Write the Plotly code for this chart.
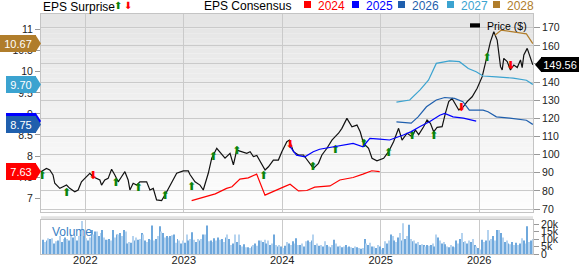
import plotly.graph_objects as go

# ---------------- data ----------------
# Price line: decimal-year positions and $ values
price_t = [2021.55, 2021.605, 2021.639, 2021.672, 2021.69, 2021.741, 2021.774, 2021.809, 2021.842, 2021.893,
           2021.927, 2021.961, 2021.995, 2022.046, 2022.079, 2022.114, 2022.148, 2022.165, 2022.198, 2022.232,
           2022.267, 2022.300, 2022.334, 2022.368, 2022.402, 2022.435, 2022.453, 2022.486, 2022.521, 2022.554,
           2022.623, 2022.656, 2022.690, 2022.724, 2022.775, 2022.809, 2022.877, 2022.928, 2022.995, 2023.046,
           2023.063, 2023.114, 2023.165, 2023.198, 2023.249, 2023.284, 2023.335, 2023.386, 2023.419, 2023.470,
           2023.504, 2023.538, 2023.589, 2023.640, 2023.674, 2023.707, 2023.742, 2023.775, 2023.826, 2023.860,
           2023.910, 2023.961, 2023.996, 2024.047, 2024.073, 2024.114, 2024.165, 2024.216, 2024.267, 2024.317,
           2024.368, 2024.403, 2024.454, 2024.505, 2024.538, 2024.572, 2024.606, 2024.657, 2024.708, 2024.759,
           2024.792, 2024.826, 2024.877, 2024.912, 2024.962, 2025.030, 2025.080, 2025.131, 2025.182, 2025.217,
           2025.268, 2025.318, 2025.352, 2025.386, 2025.436, 2025.471, 2025.505, 2025.538, 2025.573, 2025.624,
           2025.657, 2025.691, 2025.725, 2025.759, 2025.793, 2025.827, 2025.878, 2025.929, 2025.980, 2026.031,
           2026.082, 2026.115, 2026.149, 2026.183, 2026.217, 2026.234, 2026.250, 2026.285, 2026.318, 2026.352,
           2026.387, 2026.420, 2026.437, 2026.454, 2026.488, 2026.521, 2026.545]
price_v = [90.6, 92.4, 91.5, 88.8, 84.2, 81.4, 82.3, 83.2, 81.4, 79.5,
           80.5, 85.0, 86.9, 89.7, 87.8, 86.9, 86.0, 83.2, 86.0, 86.9,
           91.9, 88.8, 85.0, 87.8, 90.6, 86.0, 80.5, 84.2, 83.2, 85.0,
           85.0, 80.5, 81.4, 75.0, 74.6, 77.7, 84.2, 89.7, 91.0, 91.0,
           89.0, 85.0, 83.2, 80.5, 89.7, 98.0, 103.5, 99.8, 98.0, 100.7,
           94.3, 102.5, 101.6, 100.7, 101.6, 98.9, 99.5, 96.1, 91.5, 93.3,
           97.0, 97.0, 101.6, 107.1, 108.0, 101.6, 99.8, 99.8, 96.1, 92.4,
           95.2, 99.8, 103.5, 108.0, 109.9, 111.8, 114.5, 120.0, 115.4, 116.3,
           112.6, 106.2, 103.5, 98.0, 96.6, 98.0, 101.6, 107.1, 114.5, 108.0,
           111.8, 109.9, 113.6, 111.0, 115.4, 119.1, 117.3, 112.6, 115.0, 115.4,
           122.8, 129.2, 131.0, 127.4, 124.6, 125.5, 129.2, 131.9, 136.6, 143.0,
           154.0, 162.3, 167.8, 163.2, 148.5, 146.7, 153.1, 151.3, 146.7, 149.4,
           148.0, 152.2, 148.0, 155.0, 158.6, 154.0, 149.56]
price_last_text = "149.56"

# EPS consensus lines (fiscal years)
eps_years = ["2024", "2025", "2026", "2027", "2028"]
eps_colors = ["#ff0000", "#0000ff", "#1f5fad", "#3ba3d0", "#b07d2b"]
eps_t = [
    [2023.08, 2023.32, 2023.435, 2023.49, 2023.57, 2023.655, 2023.74, 2023.825, 2024.01, 2024.08,
     2024.165, 2024.25, 2024.33, 2024.485, 2024.585, 2024.655, 2024.72, 2024.82, 2024.91, 2024.99],
    [2024.08, 2024.145, 2024.23, 2024.315, 2024.38, 2024.485, 2024.62, 2024.72, 2024.82, 2024.89,
     2024.99, 2025.09, 2025.23, 2025.31, 2025.40, 2025.50, 2025.60, 2025.65, 2025.735, 2025.84, 2025.97],
    [2025.16, 2025.31, 2025.38, 2025.465, 2025.565, 2025.65, 2025.75, 2025.835, 2025.90, 2026.04,
     2026.09, 2026.175, 2026.31, 2026.41, 2026.48, 2026.545],
    [2025.16, 2025.295, 2025.40, 2025.485, 2025.565, 2025.70, 2025.80, 2025.89, 2025.97, 2026.04,
     2026.175, 2026.345, 2026.48, 2026.545],
    [2026.16, 2026.225, 2026.345, 2026.48, 2026.545],
]
eps_v = [
    [6.94, 7.10, 7.23, 7.27, 7.45, 7.48, 7.57, 7.07, 7.26, 7.33,
     7.17, 7.18, 7.26, 7.29, 7.43, 7.47, 7.49, 7.57, 7.65, 7.63],
    [8.22, 8.02, 7.98, 8.10, 8.16, 8.20, 8.26, 8.30, 8.22, 8.42,
     8.40, 8.38, 8.50, 8.58, 8.70, 8.82, 8.97, 9.01, 8.93, 8.90, 8.83],
    [8.81, 8.78, 8.93, 9.17, 9.33, 9.39, 9.37, 9.29, 9.09, 9.09,
     9.05, 8.93, 8.90, 8.86, 8.85, 8.75],
    [9.28, 9.33, 9.57, 9.80, 10.20, 10.26, 10.24, 10.08, 10.00, 9.90,
     9.88, 9.85, 9.80, 9.70],
    [10.87, 10.99, 10.95, 10.90, 10.67],
]

# EPS surprise markers (position on price scale)
beat_t = [2021.56, 2021.81, 2022.31, 2022.54, 2022.81, 2023.08, 2023.30, 2023.54, 2023.81,
          2024.31, 2024.54, 2024.83, 2025.08, 2025.32, 2025.54, 2026.08]
beat_v = [87.8, 78.7, 84.2, 81.7, 76.8, 81.9, 98.5, 101.6, 88.2,
          93.3, 102.2, 105.5, 100.9, 110.3, 110.3, 153.1]
miss_t = [2022.08, 2024.08, 2025.82, 2026.32]
miss_v = [87.8, 105.3, 125.5, 148.5]

# Weekly volume (thousands) by calendar year
vol_2021 = [9.5, 8, 9, 10.5, 10, 10.5, 7, 8.5, 9, 12, 8, 10, 11, 10, 9, 13, 11, 12, 9, 12, 13, 22, 12]
vol_2022 = [10.5, 9, 11, 16, 13, 15, 15, 12, 14, 16, 11, 9.5, 9.5, 10, 9, 16, 11, 13, 13, 14, 12, 16, 15,
            7, 8, 7.5, 12, 9, 11, 9.5, 10, 14, 13, 9, 8, 10, 9.5, 19, 9, 10, 12, 18.5, 15, 14, 11,
            12, 11, 12, 12.5, 13, 7.5, 10, 9, 7, 9]
vol_2023 = [7.5, 13, 9, 10, 14.5, 9.5, 8, 10, 9, 10, 13, 13, 19, 8.5, 9, 8, 10.5, 9, 11, 9.5, 10, 8, 11,
            13, 10, 6, 7, 13, 8, 13, 6, 5, 6.5, 4.5, 4.5, 4, 5, 6, 7, 5.5, 9, 9, 8, 9.5, 7, 9, 6, 7,
            13, 6, 5, 6, 5]
vol_2024 = [4, 5.5, 8, 7, 6, 8.5, 7, 10.5, 6, 6, 7, 5, 8.5, 9, 8, 9, 13, 6, 7, 5.5, 6, 5, 8.5, 6, 5,
            4.5, 6, 9.5, 7, 5, 5.5, 4.5, 5, 6, 4.5, 5, 4.5, 4, 5, 4.5, 4, 3.5, 4, 10, 7, 6, 7.5, 5,
            5, 4, 6, 5]
vol_2025 = [3, 4, 8.5, 7, 9, 13, 12, 9, 8, 11, 14, 9, 20.5, 10, 12, 19.5, 10, 8.5, 9, 7, 8, 6, 6.5, 6,
            5, 6, 5.5, 6, 7, 5, 13, 11, 9, 7, 8, 6.5, 5, 4.5, 6, 5, 4.5, 9, 7, 10, 14, 8, 8.5, 7, 9,
            8, 10, 6, 5, 4]
vol_2026 = [3, 9.5, 8, 9, 16, 9, 10, 12, 9, 16, 16, 14, 11, 8, 9, 7, 6.5, 8, 6, 7.5, 6, 7, 10.5, 9, 7,
            18.5, 8, 9, 10]

year_ticks = [2022, 2023, 2024, 2025, 2026]
price_ticks = [70, 80, 90, 100, 110, 120, 130, 140, 150, 160, 170]
eps_ticks = [7, 7.5, 8, 8.5, 9, 9.5, 10, 10.5, 11]
vol_ticks = [0, 5, 10, 15, 20]
vol_ticktext = ["0", "5k", "10k", "15k", "20k"]

# ---------------- layout geometry (pixels) ----------------
W_FIG, H_FIG = 579, 264
L, R, T, B = 41, 533, 14, 254
PW, PH = R - L, B - T
PRICE_BOT = 212
VOL_TOP = 220
X_RANGE = [2021.55, 2026.547]
P_RANGE = [68.35, 177.56]
E_RANGE = [6.670, 11.373]
V_RANGE = [0, 22.7]
FONT = "Liberation Sans, Arial, sans-serif"


def pxp(x):
    return (x - L) / PW


def pyp(y):
    return (B - y) / PH


p_per_px = (P_RANGE[1] - P_RANGE[0]) / (PRICE_BOT - T)
e_per_px = (E_RANGE[1] - E_RANGE[0]) / (PRICE_BOT - T)

# volume bar positions
vol_t, vol_v = [], []
for i, v in enumerate(vol_2021):
    vol_t.append(2022 - (len(vol_2021) - i - 0.5) / 52)
    vol_v.append(v)
for yr, lst in [(2022, vol_2022), (2023, vol_2023), (2024, vol_2024), (2025, vol_2025)]:
    for i, v in enumerate(lst):
        vol_t.append(yr + (i + 0.5) / len(lst))
        vol_v.append(v)
for i, v in enumerate(vol_2026):
    vol_t.append(2026 + (i + 0.5) / 52)
    vol_v.append(v)
vol_colors = ["#6fa8dc" if i % 2 == 0 else "#b5d3ef" for i in range(len(vol_v))]

fig = go.Figure()

# volume
fig.add_trace(go.Bar(x=vol_t, y=vol_v, xaxis="x2", yaxis="y2", marker=dict(color=vol_colors, line=dict(width=0)),
                     showlegend=False, hoverinfo="skip"))

# EPS consensus lines
for t, v, c in zip(eps_t, eps_v, eps_colors):
    fig.add_trace(go.Scatter(x=t, y=v, xaxis="x", yaxis="y3", mode="lines",
                             line=dict(color=c, width=1.2), showlegend=False, hoverinfo="skip"))

# price
fig.add_trace(go.Scatter(x=price_t, y=price_v, xaxis="x", yaxis="y", mode="lines",
                         line=dict(color="#111111", width=1.2), showlegend=False, hoverinfo="skip"))

# surprise arrows
fig.add_trace(go.Scatter(x=beat_t, y=beat_v, xaxis="x", yaxis="y", mode="text", text=["⬆"] * len(beat_t),
                         textfont=dict(color="#0b840b", size=11, family="DejaVu Sans"),
                         showlegend=False, hoverinfo="skip"))
fig.add_trace(go.Scatter(x=miss_t, y=miss_v, xaxis="x", yaxis="y", mode="text", text=["⬇"] * len(miss_t),
                         textfont=dict(color="#ff0000", size=11, family="DejaVu Sans"),
                         showlegend=False, hoverinfo="skip"))

shapes = []
annotations = []

# gradient background of price panel
NB = 40
for k in range(NB):
    y0 = T + (PRICE_BOT - T) * k / NB
    y1 = T + (PRICE_BOT - T) * (k + 1) / NB
    g = int(229 + (254 - 229) * (k / (NB - 1)))
    shapes.append(dict(type="rect", xref="paper", yref="paper", x0=0, x1=1, y0=pyp(y1), y1=pyp(y0),
                       fillcolor=f"rgb({g},{g},{g})", line=dict(width=0), layer="below"))
# separator band between panels
shapes.append(dict(type="rect", xref="paper", yref="paper", x0=0, x1=1, y0=pyp(219.5), y1=pyp(216.3),
                   fillcolor="#e2e2e2", line=dict(width=0), layer="below"))

# EPS value tags on the left
for name, v, c in zip(eps_years, eps_v, eps_colors):
    last = v[-1]
    half = 8.5 * e_per_px
    shapes.append(dict(type="path", xref="paper", yref="y3",
                       path=f"M {pxp(35.5)},{last + half} L {pxp(41)},{last} L {pxp(35.5)},{last - half} Z",
                       fillcolor=c, line=dict(width=0), layer="above"))
    wide = len(f"{last:.2f}") > 4
    annotations.append(dict(xref="paper", yref="y3", x=pxp(36), y=last, xanchor="right", yanchor="middle",
                            text=f"{last:.2f}", showarrow=False, bgcolor=c, borderpad=0, borderwidth=0,
                            width=36 if wide else 30, height=17, align="center",
                            font=dict(color="white", size=11, family=FONT)))

# price tag on the right
last_p = price_v[-1]
half_p = 7.5 * p_per_px
shapes.append(dict(type="path", xref="paper", yref="y",
                   path=f"M {pxp(535)},{last_p} L {pxp(541.5)},{last_p + half_p} L {pxp(541.5)},{last_p - half_p} Z",
                   fillcolor="black", line=dict(width=0), layer="above"))
annotations.append(dict(xref="paper", yref="y", x=pxp(541), y=last_p, xanchor="left", yanchor="middle",
                        text=price_last_text, showarrow=False, bgcolor="black", borderpad=0, borderwidth=0,
                        width=38, height=15, align="center", font=dict(color="white", size=11, family=FONT)))

# top legend
annotations.append(dict(xref="paper", yref="paper", x=pxp(41), y=pyp(6.5), xanchor="left", yanchor="middle",
                        text="EPS Surprise", showarrow=False, font=dict(color="black", size=12, family=FONT)))
annotations.append(dict(xref="paper", yref="paper", x=pxp(118), y=pyp(6), xanchor="center", yanchor="middle",
                        text="⬆", showarrow=False, font=dict(color="#0b840b", size=10, family="DejaVu Sans")))
annotations.append(dict(xref="paper", yref="paper", x=pxp(127.5), y=pyp(6), xanchor="center", yanchor="middle",
                        text="⬇", showarrow=False, font=dict(color="#ff0000", size=10, family="DejaVu Sans")))
annotations.append(dict(xref="paper", yref="paper", x=pxp(202), y=pyp(6), xanchor="left", yanchor="middle",
                        text="EPS Consensus", showarrow=False, font=dict(color="black", size=12, family=FONT)))
leg_x = [304, 352, 398, 447, 493]
for lx, name, c in zip(leg_x, eps_years, eps_colors):
    shapes.append(dict(type="rect", xref="paper", yref="paper", x0=pxp(lx), x1=pxp(lx + 7),
                       y0=pyp(8), y1=pyp(1), fillcolor=c, line=dict(width=0)))
    annotations.append(dict(xref="paper", yref="paper", x=pxp(lx + 12), y=pyp(6), xanchor="left",
                            yanchor="middle", text=name, showarrow=False,
                            font=dict(color=c, size=12, family=FONT)))

# Price ($) legend inside plot
shapes.append(dict(type="rect", xref="paper", yref="paper", x0=pxp(470), x1=pxp(480), y0=pyp(27.5), y1=pyp(23.3),
                   fillcolor="black", line=dict(width=0)))
annotations.append(dict(xref="paper", yref="paper", x=pxp(485), y=pyp(25.5), xanchor="left", yanchor="middle",
                        text="Price ($)", showarrow=False, font=dict(color="black", size=10.5, family=FONT)))

# Volume label
annotations.append(dict(xref="paper", yref="paper", x=pxp(50), y=pyp(232), xanchor="left", yanchor="middle",
                        text="Volume", showarrow=False, font=dict(color="#3a7fc4", size=12, family=FONT)))

grid_c = "#cacaca"
line_c = "#c4c4c4"
tick_font = dict(family=FONT, size=10.5, color="#222222")

fig.update_layout(
    template="none",
    width=W_FIG, height=H_FIG,
    margin=dict(l=L, r=W_FIG - R, t=T, b=H_FIG - B, pad=0, autoexpand=False),
    paper_bgcolor="white", plot_bgcolor="rgba(0,0,0,0)",
    showlegend=False, bargap=0.45,
    shapes=shapes, annotations=annotations,
    font=dict(family=FONT),
    xaxis=dict(domain=[0, 1], anchor="y", range=X_RANGE, tickvals=year_ticks, showticklabels=False,
               showgrid=True, gridcolor=grid_c, gridwidth=1, zeroline=False, automargin=False,
               showline=True, linecolor=line_c, mirror=True, ticks=""),
    yaxis=dict(domain=[pyp(PRICE_BOT), 1], anchor="x", side="right", range=P_RANGE, tickvals=price_ticks,
               showgrid=True, gridcolor=grid_c, gridwidth=1, zeroline=False, automargin=False,
               showline=True, linecolor=line_c, mirror=True,
               ticks="outside", ticklen=6, tickcolor="#999999", tickfont=tick_font),
    yaxis3=dict(overlaying="y", anchor="x", side="left", range=E_RANGE, tickvals=eps_ticks,
                ticktext=[("%g" % t) for t in eps_ticks], showgrid=False, zeroline=False, automargin=False,
                ticks="outside", ticklen=5, tickcolor="#999999", tickfont=tick_font, showline=False),
    xaxis2=dict(domain=[0, 1], anchor="y2", range=X_RANGE, tickvals=year_ticks,
                ticktext=[str(y) for y in year_ticks], showgrid=True, gridcolor=grid_c, zeroline=False,
                automargin=False, showline=True, linecolor=line_c, mirror=True, ticks="",
                ticklabelstandoff=-4,
                tickfont=dict(family=FONT, size=11, color="#222222")),
    yaxis2=dict(domain=[0, pyp(VOL_TOP)], anchor="x2", side="right", range=V_RANGE, tickvals=vol_ticks,
                ticktext=vol_ticktext, showgrid=False, zeroline=False, automargin=False,
                showline=True, linecolor=line_c, mirror=True,
                ticks="outside", ticklen=5, tickcolor="#999999", tickfont=tick_font),
)

fig.write_html("out.html")
